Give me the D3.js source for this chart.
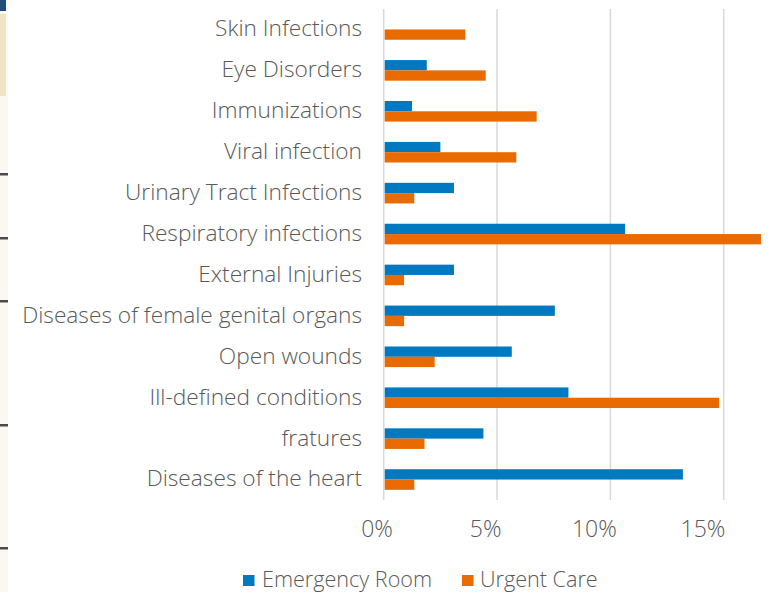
<!DOCTYPE html>
<html>
<head>
<meta charset="utf-8">
<script src="https://cdn.jsdelivr.net/npm/d3@7"></script>
<style>
  body { margin: 0; background: #fff; }
  svg text { font-family: "Open Sans", "Segoe UI", sans-serif; font-weight: 300; fill: #595959; }
</style>
</head>
<body>
<script>
// categories top to bottom, values in percent
const categories = ["Skin Infections", "Eye Disorders", "Immunizations", "Viral infection",
  "Urinary Tract Infections", "Respiratory infections", "External Injuries",
  "Diseases of female genital organs", "Open wounds", "Ill-defined conditions",
  "fratures", "Diseases of the heart"];
const emergencyRoom = [0, 1.9, 1.25, 2.5, 3.1, 10.65, 3.1, 7.55, 5.65, 8.15, 4.4, 13.2];
const urgentCare = [3.6, 4.5, 6.75, 5.85, 1.35, 16.65, 0.9, 0.9, 2.25, 14.8, 1.8, 1.35];
const xTicks = [0, 5, 10, 15];
const seriesNames = ["Emergency Room", "Urgent Care"];
const colors = ["#0079C1", "#E96B00"];

const width = 774, height = 592;
const svg = d3.select("body").append("svg")
    .attr("width", width)
    .attr("height", height);

// bits of a neighbouring slide on the left edge
const edge = svg.append("g");
edge.append("rect").attr("x", 0).attr("y", 0).attr("width", 8).attr("height", height).attr("fill", "#fbf8f1");
edge.append("rect").attr("x", 0).attr("y", 0).attr("width", 6).attr("height", 11).attr("fill", "#1f4e79");
edge.append("rect").attr("x", 0).attr("y", 14).attr("width", 6).attr("height", 82).attr("fill", "#efe4c6");
[174, 238, 301, 425, 548].forEach(y => {
  edge.append("rect").attr("x", 0).attr("y", y - 1).attr("width", 8).attr("height", 2.5).attr("fill", "#4a4a4a");
});

const x = d3.scaleLinear().domain([0, 15]).range([383.7, 723.7]);
// tick labels in the original sit a little left of their gridlines
const xLabel = d3.scaleLinear().domain([0, 15]).range([377, 703]);
const y = d3.scaleBand().domain(categories).range([9, 500]);
const ySub = d3.scaleBand().domain(seriesNames).range([0, y.bandwidth()])
    .paddingInner(0).paddingOuter(0.985);

// gridlines
svg.append("g").selectAll("line")
  .data(xTicks)
  .join("line")
    .attr("x1", d => x(d)).attr("x2", d => x(d))
    .attr("y1", 9).attr("y2", 500)
    .attr("stroke", "#d9d9d9")
    .attr("stroke-width", 1.5);

// bars
const data = categories.map((c, i) => ({cat: c, values: [emergencyRoom[i], urgentCare[i]]}));
const groups = svg.append("g").selectAll("g")
  .data(data)
  .join("g")
    .attr("transform", d => `translate(0,${y(d.cat)})`);

groups.selectAll("rect")
  .data(d => d.values.map((v, j) => ({name: seriesNames[j], value: v, j: j})).filter(d => d.value > 0))
  .join("rect")
    .attr("x", x(0) + 1)
    .attr("y", d => ySub(d.name))
    .attr("width", d => x(d.value) - x(0) - 1)
    .attr("height", ySub.bandwidth())
    .attr("fill", d => colors[d.j]);

// category labels
svg.append("g").selectAll("text")
  .data(categories)
  .join("text")
    .attr("x", 362)
    .attr("y", d => y(d) + y.bandwidth() / 2 - 1)
    .attr("dy", "0.35em")
    .attr("text-anchor", "end")
    .style("font-size", "22.7px")
    .text(d => d);

// x axis labels
svg.append("g").selectAll("text")
  .data(xTicks)
  .join("text")
    .attr("x", d => xLabel(d))
    .attr("y", 536.5)
    .attr("text-anchor", "middle")
    .style("font-size", "23px")
    .text(d => d + "%");

// legend
const legendX = [243, 462];
const legend = svg.append("g").selectAll("g")
  .data(seriesNames)
  .join("g")
    .attr("transform", (d, i) => `translate(${legendX[i]},575)`);
legend.append("rect")
    .attr("width", 11.5).attr("height", 11)
    .attr("fill", (d, i) => colors[i]);
legend.append("text")
    .attr("x", (d, i) => i === 0 ? 19 : 18)
    .attr("y", 12)
    .style("font-size", "21.6px")
    .text(d => d);
</script>
</body>
</html>
